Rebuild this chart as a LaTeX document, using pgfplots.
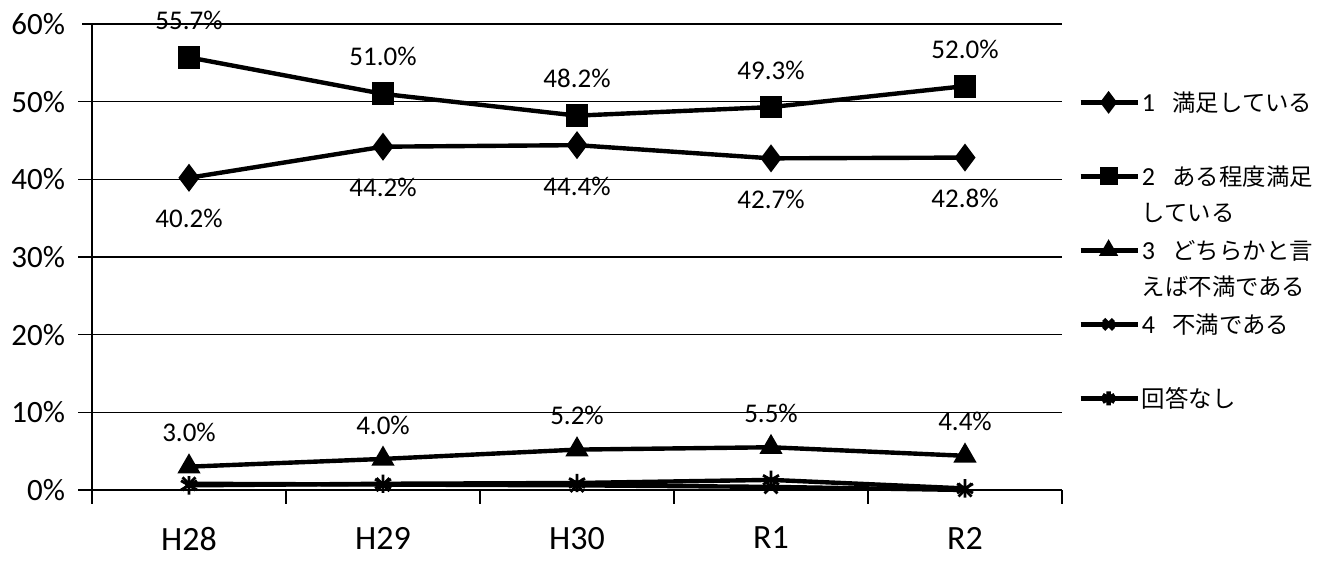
\documentclass[border=0pt]{standalone}
\usepackage{pgfplots}
\pgfplotsset{compat=1.18}
\usepackage{fontspec}
\setmainfont{Carlito}
\newfontfamily\jp{Noto Sans CJK JP}
\newcommand\legtext[1]{\parbox[t]{95pt}{#1}}
\newcommand\num[1]{{\fontsize{13}{18}\selectfont #1}}
\begin{document}
\begin{tikzpicture}
\begin{axis}[
  name=ax,
  scale only axis, width=485pt, height=233pt,
  xmin=-0.5, xmax=4.5, ymin=0, ymax=60,
  clip=false,
  /pgf/number format/assume math mode=true,
  axis lines=left, axis line style={-, line width=0.8pt, black},
  xtick={-0.5,0.5,1.5,2.5,3.5,4.5}, x tick label as interval,
  xticklabels={H28,H29,H30,R1,R2},
  major tick length=7pt, tick align=outside,
  major x tick style={line width=0.8pt, black},
  xticklabel style={font=\fontsize{17}{19}\selectfont, yshift=-8pt},
  ytick={0,10,20,30,40,50,60},
  yticklabel={\pgfmathprintnumber{\tick}\%},
  yticklabel style={font=\fontsize{15.5}{17}\selectfont, xshift=-3pt},
  major y tick style={line width=0.8pt, black, shorten <=2pt},
  ymajorgrids, grid style={black, line width=0.8pt},
  point meta=explicit symbolic,
  legend style={draw=none, fill=none, at={(1,1)}, anchor=north west, xshift=8pt, yshift=-31.5pt,
    font=\fontsize{11.7}{18}\selectfont, row sep=0pt, inner sep=0pt,
    nodes={inner sep=1pt, text height=11pt, text depth=24pt}},
  legend cell align=left,
  legend image code/.code={\draw[mark repeat=2,mark phase=2,mark options={scale=0.75}] plot coordinates {(0pt,11pt) (14pt,11pt) (28.5pt,11pt)};},
]
\addplot[black, line width=2.2pt, mark=diamond*, mark size=5.2pt, mark options={solid},
  nodes near coords, every node near coord/.append style={anchor=center, yshift=-20.5pt, font=\fontsize{13.5}{15}\selectfont}]
  coordinates {(0,40.2) [40.2\%] (1,44.2) [44.2\%] (2,44.4) [44.4\%] (3,42.7) [42.7\%] (4,42.8) [42.8\%]};
\addlegendentry{\legtext{\num{1}\hspace{0.75em}\jp 満足している}}
\addplot[black, line width=2.2pt, mark=square*, mark size=4.6pt, mark options={solid},
  nodes near coords, every node near coord/.append style={anchor=center, yshift=18.5pt, font=\fontsize{13.5}{15}\selectfont}]
  coordinates {(0,55.7) [55.7\%] (1,51.0) [51.0\%] (2,48.2) [48.2\%] (3,49.3) [49.3\%] (4,52.0) [52.0\%]};
\addlegendentry{\legtext{\num{2}\hspace{0.75em}\jp ある程度満足\par している}}
\addplot[black, line width=2.2pt, mark=triangle*, mark size=4.5pt, mark options={solid},
  nodes near coords, every node near coord/.append style={anchor=center, yshift=17pt, font=\fontsize{13.5}{15}\selectfont}]
  coordinates {(0,3.0) [3.0\%] (1,4.0) [4.0\%] (2,5.2) [5.2\%] (3,5.5) [5.5\%] (4,4.4) [4.4\%]};
\addlegendentry{\legtext{\num{3}\hspace{0.75em}\jp どちらかと言\par えば不満である}}
\addplot[black, line width=2.2pt, mark=x, mark size=4.6pt, mark options={solid, line width=1.4pt}]
  coordinates {(0,0.8) (1,0.7) (2,0.6) (3,0.4) (4,0.0)};
\addlegendentry{\legtext{\num{4}\hspace{0.75em}\jp 不満である}}
\addplot[black, line width=2.2pt, mark=asterisk, mark size=4.6pt, mark options={solid, line width=1.4pt}]
  coordinates {(0,0.6) (1,0.8) (2,0.9) (3,1.3) (4,0.2)};
\addlegendentry{\legtext{\jp 回答なし}}
\end{axis}
\path (ax.south west) ++(-46pt,-36.5pt) rectangle ([xshift=139.5pt,yshift=12pt]ax.north east);
\end{tikzpicture}
\end{document}
